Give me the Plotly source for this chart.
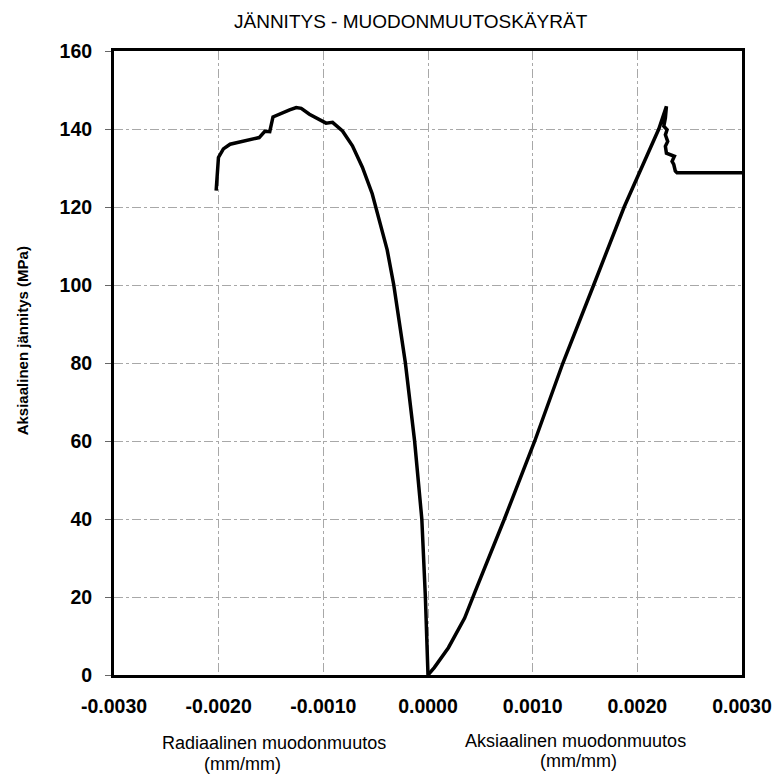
import plotly.graph_objects as go

# Radial strain curve (left branch), from origin upward
radial_strain = [0.0, -0.000025, -0.000059, -0.000128, -0.000216, -0.000327, -0.00039,
                 -0.0005, -0.000533, -0.000627, -0.000722, -0.000817, -0.000912, -0.000974,
                 -0.001069, -0.001133, -0.001211, -0.001259, -0.001322, -0.001401, -0.001481,
                 -0.001512, -0.001559, -0.001613, -0.001701, -0.001796, -0.001891, -0.001955,
                 -0.002002, -0.002024]
radial_stress = [0.0, 20.0, 40.0, 60.0, 80.0, 100.0, 109.0,
                 120.0, 123.4, 130.2, 135.7, 139.5, 141.7, 141.5,
                 142.9, 143.8, 145.3, 145.5, 144.9, 144.0, 143.1,
                 139.3, 139.4, 137.8, 137.2, 136.6, 136.1, 134.9,
                 132.7, 124.2]

# Axial strain curve (right branch)
axial_strain = [0.0, 0.00006, 0.000195, 0.00035, 0.00045, 0.00061, 0.00073, 0.00102,
                0.001289, 0.001583, 0.001874, 0.002205, 0.002278, 0.002268, 0.002253,
                0.002284, 0.002268, 0.00229, 0.002268, 0.002278, 0.002332, 0.002354,
                0.002332, 0.002348, 0.002363, 0.002379, 0.003]
axial_stress = [0.0, 1.9, 7.0, 14.6, 21.4, 31.8, 40.0, 60.0,
                80.0, 100.0, 120.0, 140.0, 145.8, 142.8, 140.7,
                139.8, 138.5, 136.8, 135.6, 133.8, 133.2, 133.0,
                131.7, 130.9, 129.2, 128.8, 128.8]

x_tick_vals = [-0.003, -0.002, -0.001, 0.0, 0.001, 0.002, 0.003]
x_tick_text = ["-0.0030", "-0.0020", "-0.0010", "0.0000", "0.0010", "0.0020", "0.0030"]
y_tick_vals = [0, 20, 40, 60, 80, 100, 120, 140, 160]

title_text = "JÄNNITYS - MUODONMUUTOSKÄYRÄT"
y_title = "Aksiaalinen jännitys (MPa)"
x_title_left = ["Radiaalinen muodonmuutos", "(mm/mm)"]
x_title_right = ["Aksiaalinen muodonmuutos", "(mm/mm)"]

# figure geometry (page has an 8px body margin)
W, H = 776, 768
L, R, T, B = 106, 33, 43, 101
PW, PH = W - L - R, H - T - B


def px_x(page_x):
    return (page_x - 8 - L) / PW


def px_y(page_y):
    return (H - B - (page_y - 8)) / PH


fig = go.Figure()
fig.add_trace(go.Scatter(x=radial_strain, y=radial_stress, mode="lines",
                         line=dict(color="black", width=3.5), showlegend=False))
fig.add_trace(go.Scatter(x=axial_strain, y=axial_stress, mode="lines",
                         line=dict(color="black", width=3.5), showlegend=False))

font_family = "Liberation Sans, Arial, sans-serif"

fig.update_layout(
    width=W, height=H,
    margin=dict(l=L, r=R, t=T, b=B),
    paper_bgcolor="white", plot_bgcolor="white",
    font=dict(family=font_family, color="black"),
)

fig.update_xaxes(
    range=[-0.003, 0.003], tickvals=x_tick_vals, ticktext=x_tick_text,
    showgrid=True, gridcolor="#a8a8a8", griddash="dashdot", gridwidth=1,
    showline=True, linecolor="black", linewidth=3, mirror=True,
    ticks="", zeroline=False,
    tickfont=dict(size=19.5, family=font_family, color="black", weight="bold"),
    ticklabelstandoff=12,
)
fig.update_yaxes(
    range=[0, 160], tickvals=y_tick_vals,
    showgrid=True, gridcolor="#a8a8a8", griddash="dashdot", gridwidth=1,
    showline=True, linecolor="black", linewidth=3, mirror=True,
    ticks="outside", ticklen=6, tickcolor="#666", zeroline=False,
    tickfont=dict(size=19.5, family=font_family, color="black", weight="bold"),
    ticklabelstandoff=9,
)

# title
fig.add_annotation(text=title_text, xref="paper", yref="paper",
                   x=px_x(415), y=px_y(22), xanchor="center", yanchor="middle",
                   showarrow=False, font=dict(size=19, family=font_family, color="black"))
# y axis title
fig.add_annotation(text=y_title, xref="paper", yref="paper",
                   x=px_x(21), y=px_y(341), xanchor="center", yanchor="middle",
                   textangle=-90, showarrow=False,
                   font=dict(size=15, family=font_family, color="black", weight="bold"))
# x axis titles
for txt, cx, cy in [(x_title_left[0], 276, 743), (x_title_left[1], 244, 764),
                    (x_title_right[0], 582, 741), (x_title_right[1], 585, 761)]:
    fig.add_annotation(text=txt, xref="paper", yref="paper",
                       x=px_x(cx), y=px_y(cy), xanchor="center", yanchor="middle",
                       showarrow=False, font=dict(size=18, family=font_family, color="black"))

fig.write_html("out.html")
